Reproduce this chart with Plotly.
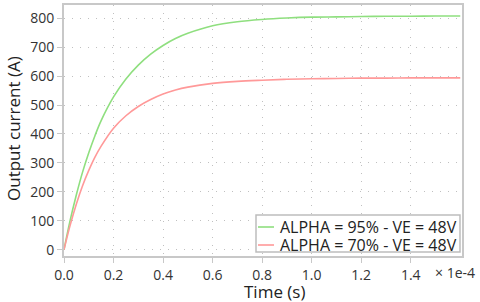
import plotly.graph_objects as go

# time in units of 1e-4 s
time = [0, 0.025, 0.05, 0.075, 0.1, 0.125, 0.15, 0.2, 0.25, 0.3, 0.35, 0.4,
        0.45, 0.5, 0.6, 0.7, 0.8, 0.9, 1.0, 1.1, 1.2, 1.3, 1.4, 1.5, 1.6]
green_95 = [0, 102, 190, 268, 335, 394, 446, 528, 590, 638, 676, 706,
            730, 748, 774, 788, 796, 801, 804, 805, 806, 807, 807, 808, 808]
red_70 = [0, 85, 158, 221, 274, 320, 358, 420, 463, 495, 519, 538,
          552, 562, 575, 582, 586, 589, 591, 592, 593, 593, 594, 594, 594]
series_names = ["ALPHA = 95% - VE = 48V", "ALPHA = 70% - VE = 48V"]
series_colors = ["#8fdf7f", "#ff9999"]
x_ticks = [0.0, 0.2, 0.4, 0.6, 0.8, 1.0, 1.2, 1.4]
y_ticks = [0, 100, 200, 300, 400, 500, 600, 700, 800]

FONT = "Open Sans"
W, H = 480, 302
ML, MR, MT, MB = 64, 18, 5, 46
PW, PH = W - ML - MR, H - MT - MB


def px(x):
    return (x - ML) / PW


def py(y):
    return (H - MB - y) / PH


fig = go.Figure()
for ys, nm, col in zip([green_95, red_70], series_names, series_colors):
    fig.add_trace(go.Scatter(x=time, y=ys, mode="lines", name=nm,
                             line=dict(color=col, width=1.6, shape="spline", smoothing=1.0)))

fig.update_layout(
    width=W, height=H,
    margin=dict(l=ML, r=MR, t=MT, b=MB),
    paper_bgcolor="white", plot_bgcolor="white",
    font=dict(family=FONT, size=14, color="#333"),
    showlegend=False,
)
axis_common = dict(showgrid=True, gridcolor="#c0c0c0", griddash="1px,7px", gridwidth=1,
                   showline=True, linecolor="#c8c8c8", linewidth=2, mirror=True,
                   ticks="outside", ticklen=5, tickcolor="#c8c8c8", zeroline=False,
                   automargin=False, tickfont=dict(size=14, color="#333"))
fig.update_xaxes(range=[0, 1.607], tickvals=x_ticks, ticktext=[f"{v:.1f}" for v in x_ticks], **axis_common)
fig.update_yaxes(range=[-22, 846], tickvals=y_ticks, **axis_common)

# axis titles
fig.add_annotation(text="Time (s)", xref="paper", yref="paper", x=px(274), y=py(291.5),
                   xanchor="center", yanchor="middle", showarrow=False,
                   font=dict(size=17, color="#222"))
fig.add_annotation(text="Output current (A)", xref="paper", yref="paper", x=px(13), y=py(129),
                   xanchor="center", yanchor="middle", showarrow=False, textangle=-90,
                   font=dict(size=17, color="#222"))
fig.add_annotation(text="× 1e-4", xref="paper", yref="paper", x=px(477), y=py(272.5),
                   xanchor="right", yanchor="middle", showarrow=False,
                   font=dict(size=14, color="#333"))

# legend box
fig.add_shape(type="rect", xref="paper", yref="paper", x0=px(256), x1=px(460), y0=py(252), y1=py(215),
              fillcolor="white", line=dict(color="#bdbdbd", width=1.5), layer="above")
for i, (nm, col) in enumerate(zip(series_names, series_colors)):
    yc = 227 + 18 * i
    fig.add_shape(type="line", xref="paper", yref="paper", x0=px(258), x1=px(274), y0=py(yc), y1=py(yc),
                  line=dict(color=col, width=1.6), layer="above")
    fig.add_annotation(text=nm, xref="paper", yref="paper", x=px(278), y=py(yc),
                       xanchor="left", yanchor="middle", showarrow=False,
                       font=dict(size=16, color="#222"))

fig.write_html("out.html", config={"displayModeBar": False},
               post_script="document.body.style.margin='0';document.body.style.overflow='hidden';")
